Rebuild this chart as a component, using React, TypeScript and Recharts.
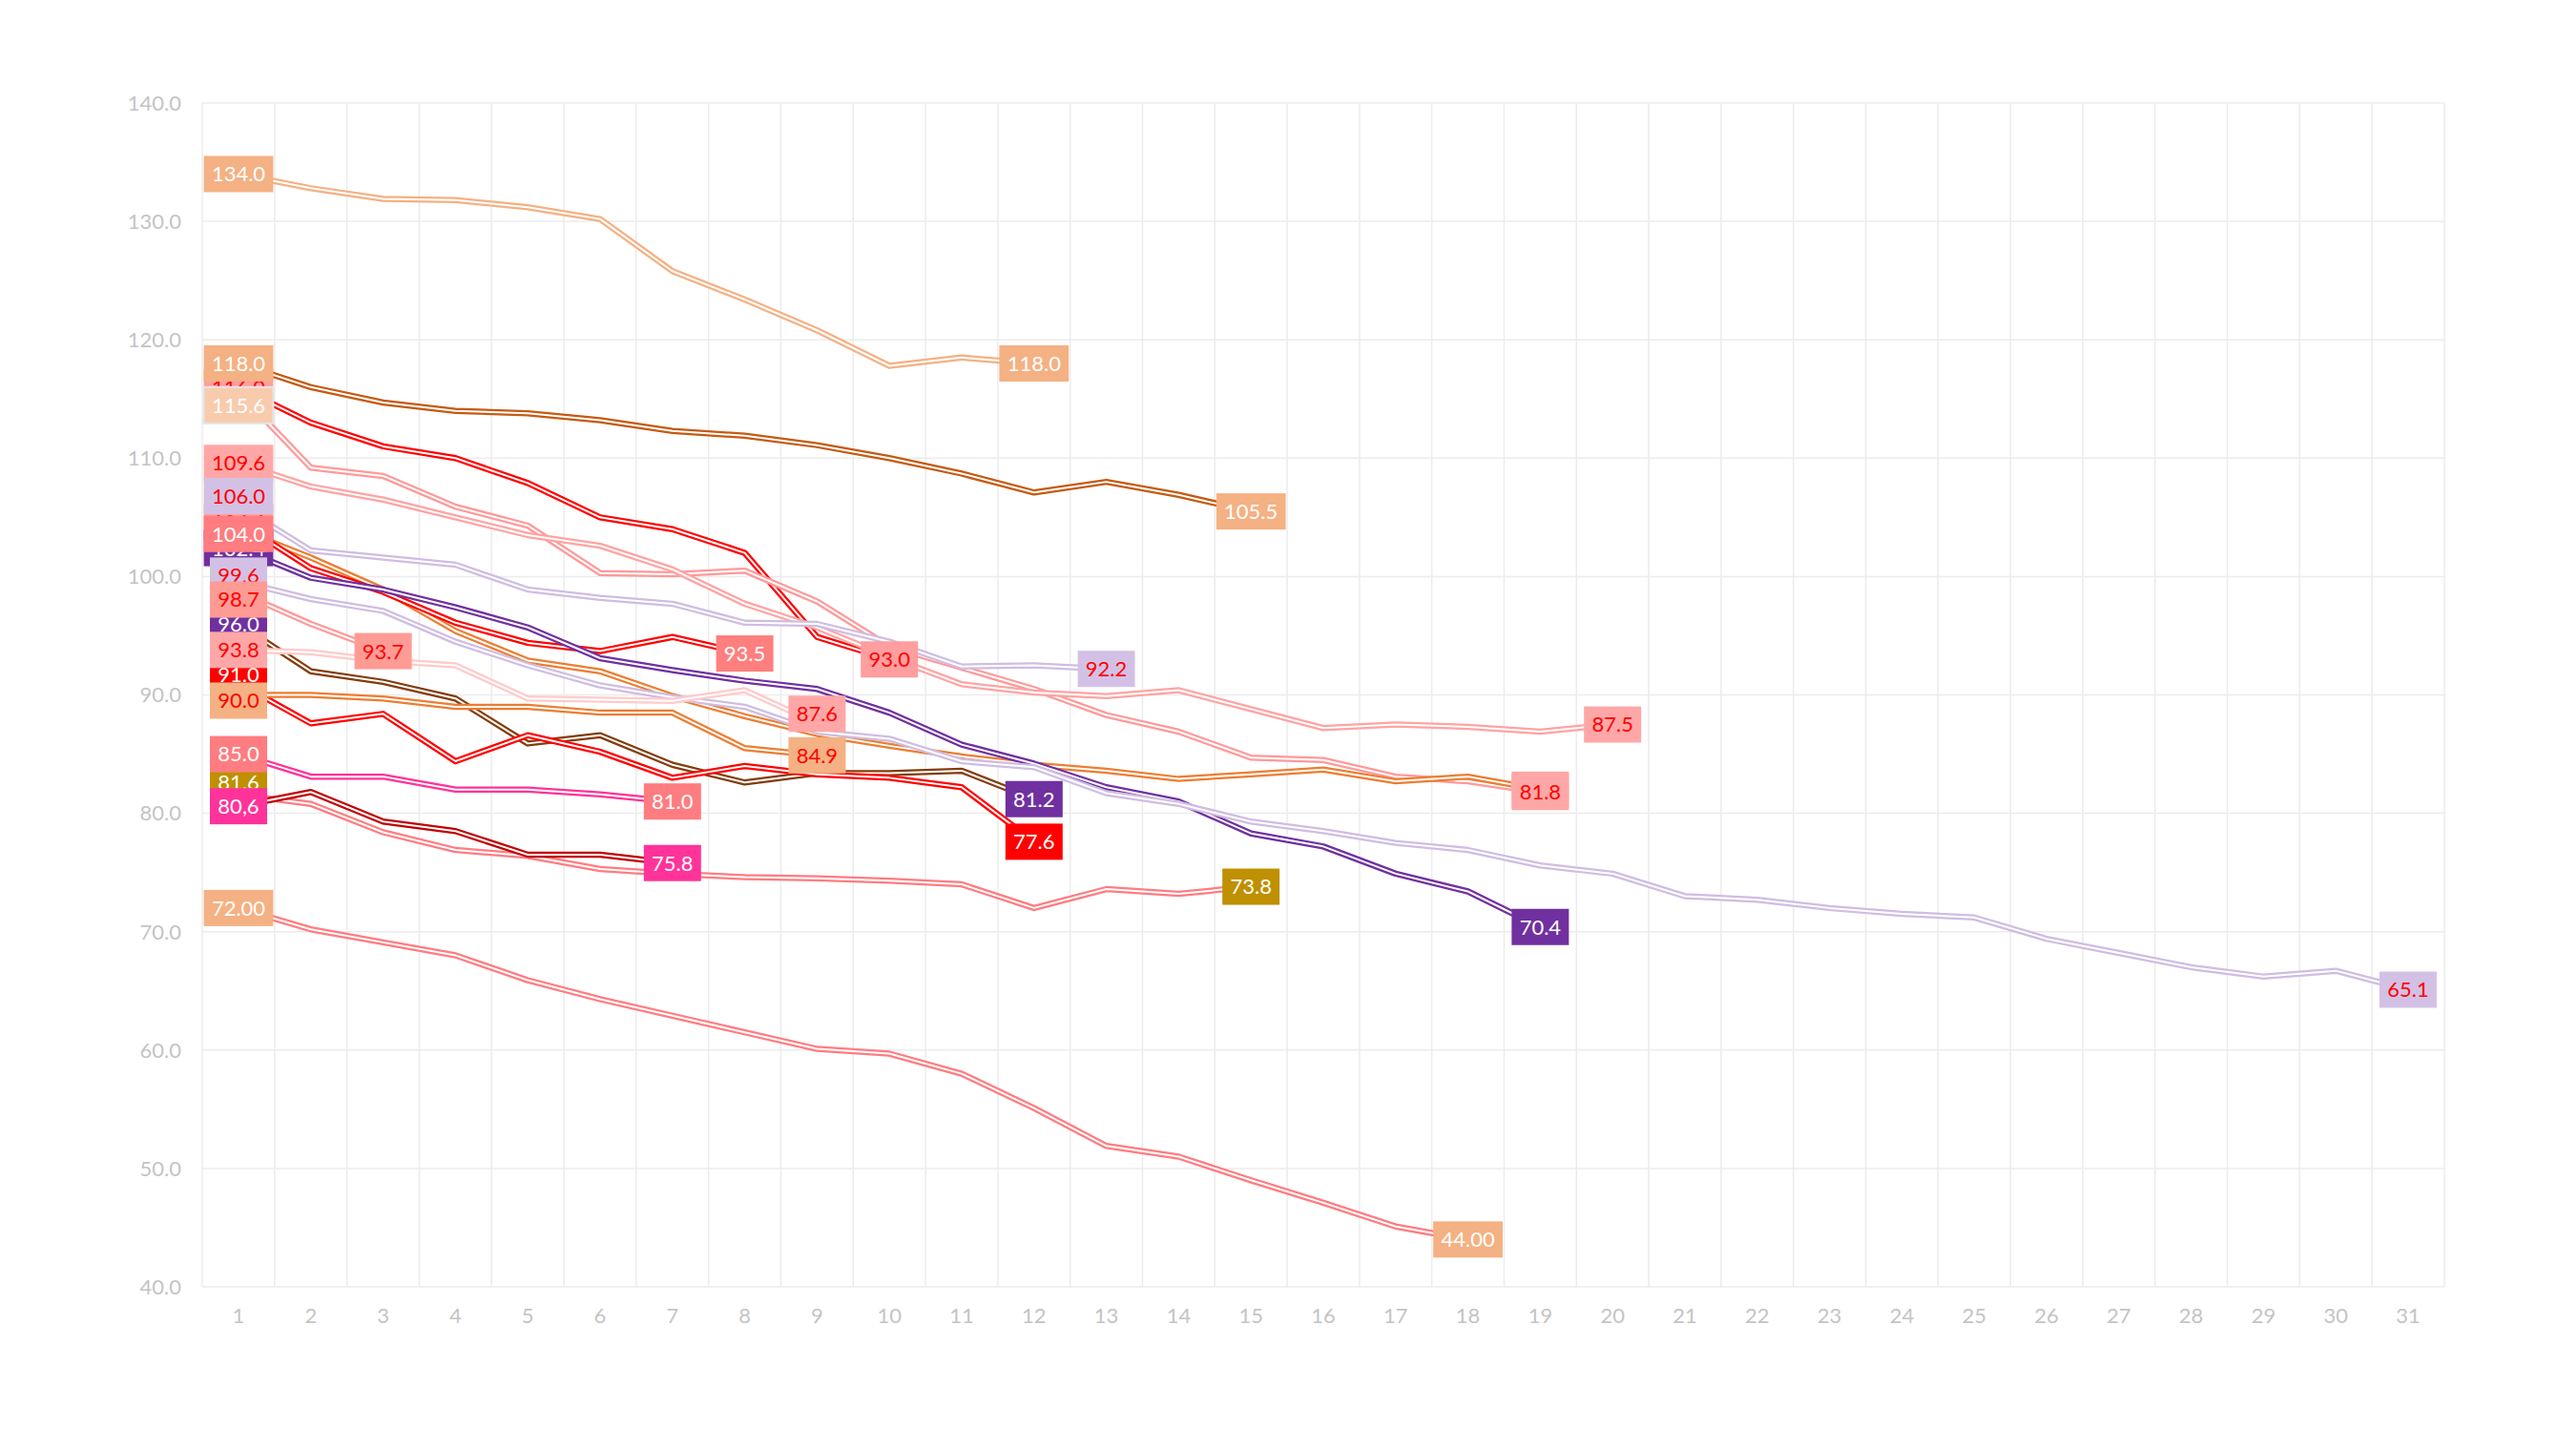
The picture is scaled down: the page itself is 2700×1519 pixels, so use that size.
import { LineChart, Line, XAxis, YAxis, CartesianGrid } from "recharts";

// categories along the bottom
const categories = [
  "1", "2", "3", "4", "5", "6", "7", "8", "9", "10", "11", "12", "13", "14", "15", "16",
  "17", "18", "19", "20", "21", "22", "23", "24", "25", "26", "27", "28", "29", "30", "31",
];
const yTicks = [40, 50, 60, 70, 80, 90, 100, 110, 120, 130, 140];

// series values (each series stops where its end label sits)
const peach134 = [134.0, 132.8, 131.9, 131.8, 131.2, 130.2, 125.8, 123.4, 120.8, 117.8, 118.5, 118.0];
const rust118 = [118.0, 116.0, 114.7, 114.0, 113.8, 113.2, 112.3, 111.9, 111.1, 110.0, 108.7, 107.1, 108.0, 106.9, 105.5];
const red116 = [116.0, 113.0, 111.0, 110.0, 107.9, 105.0, 104.0, 102.0, 94.9, 93.0];
const pink115 = [115.6, 109.2, 108.5, 105.9, 104.3, 100.3, 100.2, 100.5, 97.9, 94.1, 92.3, 90.5, 88.3, 86.9, 84.7, 84.5, 83.1, 82.7, 81.8];
const pink109 = [109.6, 107.6, 106.5, 105.0, 103.5, 102.6, 100.6, 97.7, 95.7, 93.2, 90.9, 90.2, 89.9, 90.4, 88.8, 87.2, 87.5, 87.3, 86.9, 87.5];
const lilac106 = [106.0, 102.2, 101.6, 101.0, 98.9, 98.2, 97.7, 96.1, 96.0, 94.5, 92.4, 92.5, 92.2];
const red104 = [104.6, 100.7, 98.7, 96.1, 94.4, 93.7, 94.9, 93.5];
const orange104 = [104.0, 101.6, 98.9, 95.4, 92.9, 92.0, 89.9, 88.2, 86.7, 85.7, 84.8, 84.1, 83.6, 82.9, 83.3, 83.7, 82.7, 83.1, 82.0];
const purple102 = [102.4, 99.9, 98.9, 97.4, 95.7, 93.1, 92.1, 91.2, 90.5, 88.5, 85.8, 84.2, 82.2, 81.0, 78.3, 77.2, 74.9, 73.4, 70.4];
const lilac99 = [
  99.6, 98.1, 97.1, 94.5, 92.5, 90.8, 89.8, 89.0, 86.9, 86.3, 84.4, 83.9, 81.7, 80.8, 79.3, 78.5,
  77.5, 76.9, 75.6, 74.9, 73.0, 72.7, 72.0, 71.5, 71.2, 69.4, 68.2, 67.0, 66.2, 66.7, 65.1,
];
const pink98 = [98.7, 96.0, 93.7];
const brown96 = [96.0, 92.0, 91.1, 89.7, 85.9, 86.6, 84.1, 82.6, 83.4, 83.4, 83.6, 81.2];
const blush93 = [93.8, 93.6, 92.9, 92.5, 89.7, 89.6, 89.5, 90.4, 87.6];
const red91 = [91.0, 87.6, 88.4, 84.4, 86.6, 85.2, 83.0, 84.0, 83.3, 83.0, 82.2, 77.6];
const orange90 = [90.0, 90.0, 89.7, 89.0, 89.0, 88.5, 88.5, 85.5, 84.9];
const magenta85 = [85.0, 83.1, 83.1, 82.0, 82.0, 81.6, 81.0];
const salmon81 = [81.6, 80.8, 78.4, 76.9, 76.4, 75.3, 74.9, 74.6, 74.5, 74.3, 74.0, 72.0, 73.6, 73.2, 73.8];
const crimson80 = [80.6, 81.8, 79.3, 78.5, 76.5, 76.5, 75.8];
const salmon72 = [72.0, 70.2, 69.1, 68.0, 65.9, 64.3, 62.9, 61.5, 60.1, 59.7, 58.0, 55.1, 51.9, 51.0, 49.0, 47.1, 45.1, 44.0];

type Series = {
  key: string;
  values: number[];
  line: string;
  start: string;
  end: string;
  startBg: string;
  startFg: string;
  endBg: string;
  endFg: string;
  startDy?: number;
  endDy?: number;
  border?: string;
};

const WHITE = "#ffffff";
const RED = "#ff0000";

// drawing order of the lines
const series: Series[] = [
  { key: "peach134", values: peach134, line: "#f4b183", start: "134.0", end: "118.0", startBg: "#f4b183", startFg: WHITE, endBg: "#f4b183", endFg: WHITE },
  { key: "rust118", values: rust118, line: "#c55a11", start: "118.0", end: "105.5", startBg: "#f4b183", startFg: WHITE, endBg: "#f4b183", endFg: WHITE },
  { key: "red116", values: red116, line: "#ff0000", start: "116.0", end: "93.0", startBg: "#ff9e9e", startFg: RED, endBg: "#ff9e9e", endFg: RED },
  { key: "pink115", values: pink115, line: "#ff9999", start: "115.6", end: "81.8", startBg: "#f8cbad", startFg: WHITE, endBg: "#ffa7a7", endFg: RED, startDy: 14, border: "#e4e4e4" },
  { key: "pink109", values: pink109, line: "#ffa3a3", start: "109.6", end: "87.5", startBg: "#ffa7a7", startFg: RED, endBg: "#ffa7a7", endFg: RED },
  { key: "lilac106", values: lilac106, line: "#cfbde2", start: "106.0", end: "92.2", startBg: "#d3c1e5", startFg: RED, endBg: "#d3c1e5", endFg: RED, startDy: -10 },
  { key: "orange104", values: orange104, line: "#ed7d31", start: "104.0", end: "82.0", startBg: "#ff7c80", startFg: WHITE, endBg: "#ffa7a7", endFg: RED, startDy: 5 },
  { key: "red104", values: red104, line: "#ff0000", start: "104.6", end: "93.5", startBg: "#ff9e9e", startFg: RED, endBg: "#ff7f7f", endFg: WHITE },
  { key: "purple102", values: purple102, line: "#7030a0", start: "102.4", end: "70.4", startBg: "#7030a0", startFg: WHITE, endBg: "#7030a0", endFg: WHITE },
  { key: "lilac99", values: lilac99, line: "#cfbde2", start: "99.6", end: "65.1", startBg: "#d3c1e5", startFg: RED, endBg: "#d3c1e5", endFg: RED, startDy: -6 },
  { key: "pink98", values: pink98, line: "#ff9999", start: "98.7", end: "93.7", startBg: "#ff9b95", startFg: RED, endBg: "#ff9b95", endFg: RED, startDy: 8 },
  { key: "brown96", values: brown96, line: "#843c0c", start: "96.0", end: "81.2", startBg: "#7030a0", startFg: WHITE, endBg: "#7030a0", endFg: WHITE },
  { key: "blush93", values: blush93, line: "#ffcaca", start: "93.8", end: "87.6", startBg: "#ffa7a7", startFg: RED, endBg: "#ffa7a7", endFg: RED, endDy: -10 },
  { key: "red91", values: red91, line: "#ff0000", start: "91.0", end: "77.6", startBg: "#ff0000", startFg: WHITE, endBg: "#ff0000", endFg: WHITE, startDy: -9 },
  { key: "orange90", values: orange90, line: "#ed7d31", start: "90.0", end: "84.9", startBg: "#f4b183", startFg: RED, endBg: "#f4b183", endFg: RED, startDy: 6 },
  { key: "magenta85", values: magenta85, line: "#ff3399", start: "85.0", end: "81.0", startBg: "#ff7c80", startFg: WHITE, endBg: "#ff7c80", endFg: WHITE },
  { key: "salmon81", values: salmon81, line: "#ff7c80", start: "81.6", end: "73.8", startBg: "#bf9000", startFg: WHITE, endBg: "#bf9000", endFg: WHITE, startDy: -13 },
  { key: "crimson80", values: crimson80, line: "#c00000", start: "80,6", end: "75.8", startBg: "#ff3399", startFg: WHITE, endBg: "#ff3399", endFg: WHITE },
  { key: "salmon72", values: salmon72, line: "#ff7c80", start: "72.00", end: "44.00", startBg: "#f4b183", startFg: WHITE, endBg: "#f4b183", endFg: WHITE },
];

// label stacking, bottom first (the later boxes cover the earlier ones)
const labelOrder = [
  "red116", "red104", "purple102", "orange104", "brown96", "red91", "salmon81",
  "peach134", "rust118", "pink115", "pink109", "lilac106", "lilac99", "pink98",
  "blush93", "orange90", "magenta85", "crimson80", "salmon72",
];

const data = categories.map((cat, i) => {
  const row: Record<string, string | number | null> = { cat };
  series.forEach((s) => {
    row[s.key] = i < s.values.length ? s.values[i] : null;
  });
  return row;
});

const FONT = "Lato, 'Open Sans', sans-serif";
const LABEL_SIZE = 22;
const BOX_H = 38;

function textWidth(t: string) {
  let w = 0;
  for (const ch of t) w += ch === "." || ch === "," ? 5.6 : 12.8;
  return w;
}

function makeLabelDot(s: Series) {
  const last = s.values.length - 1;
  return (props: any) => {
    const { cx, cy, index } = props;
    const k = `lbl-${s.key}-${index}`;
    if ((index !== 0 && index !== last) || cx == null || cy == null) return <g key={k} />;
    const isStart = index === 0;
    const text = isStart ? s.start : s.end;
    const bg = isStart ? s.startBg : s.endBg;
    const fg = isStart ? s.startFg : s.endFg;
    const dy = (isStart ? s.startDy : s.endDy) ?? 0;
    const w = textWidth(text) + 16;
    const y = cy + dy;
    return (
      <g key={k}>
        <rect
          x={cx - w / 2}
          y={y - BOX_H / 2}
          width={w}
          height={BOX_H}
          fill={bg}
          stroke={isStart && s.border ? s.border : "none"}
          strokeWidth={2}
        />
        <text
          x={cx}
          y={y}
          dy="0.36em"
          textAnchor="middle"
          fill={fg}
          fontSize={LABEL_SIZE}
          fontFamily={FONT}
        >
          {text}
        </text>
      </g>
    );
  };
}

export default function App() {
  const byKey = Object.fromEntries(series.map((s) => [s.key, s]));

  return (
    <div style={{ position: "absolute", left: 0, top: 0, width: 2700, height: 1519, background: "#fff" }}>
      <LineChart
        width={2700}
        height={1519}
        data={data}
        margin={{ top: 108, right: 138, bottom: 110, left: 132 }}
      >
        <CartesianGrid
          stroke="#ececec"
          strokeWidth={1.5}
          verticalCoordinatesGenerator={(p: any) => {
            const left = p?.offset?.left ?? 212;
            const w = p?.offset?.width ?? 2350;
            return categories.map((_, i) => left + (i * w) / categories.length).concat(left + w);
          }}
        />
        <XAxis
          dataKey="cat"
          padding={{ left: 38, right: 38 }}
          axisLine={false}
          tickLine={false}
          tickSize={0}
          tickMargin={22}
          height={60}
          interval={0}
          tick={{ fontSize: 22, fill: "#c4c4c4", fontFamily: FONT }}
        />
        <YAxis
          domain={[40, 140]}
          ticks={yTicks}
          width={80}
          axisLine={false}
          tickLine={false}
          tickSize={0}
          tickMargin={22}
          tickFormatter={(v: number) => v.toFixed(1)}
          tick={{ fontSize: 22, fill: "#c4c4c4", fontFamily: FONT }}
        />

        {series.flatMap((s) => [
          <Line
            key={`${s.key}-outer`}
            dataKey={s.key}
            stroke={s.line}
            strokeWidth={6.5}
            dot={false}
            activeDot={false}
            isAnimationActive={false}
            strokeLinejoin="round"
          />,
          <Line
            key={`${s.key}-inner`}
            dataKey={s.key}
            stroke="#ffffff"
            strokeWidth={2}
            dot={false}
            activeDot={false}
            isAnimationActive={false}
            strokeLinejoin="round"
          />,
        ])}

        {labelOrder.map((k) => {
          const s = byKey[k];
          return (
            <Line
              key={`${k}-labels`}
              dataKey={k}
              stroke="none"
              dot={makeLabelDot(s)}
              activeDot={false}
              isAnimationActive={false}
            />
          );
        })}
      </LineChart>
    </div>
  );
}
